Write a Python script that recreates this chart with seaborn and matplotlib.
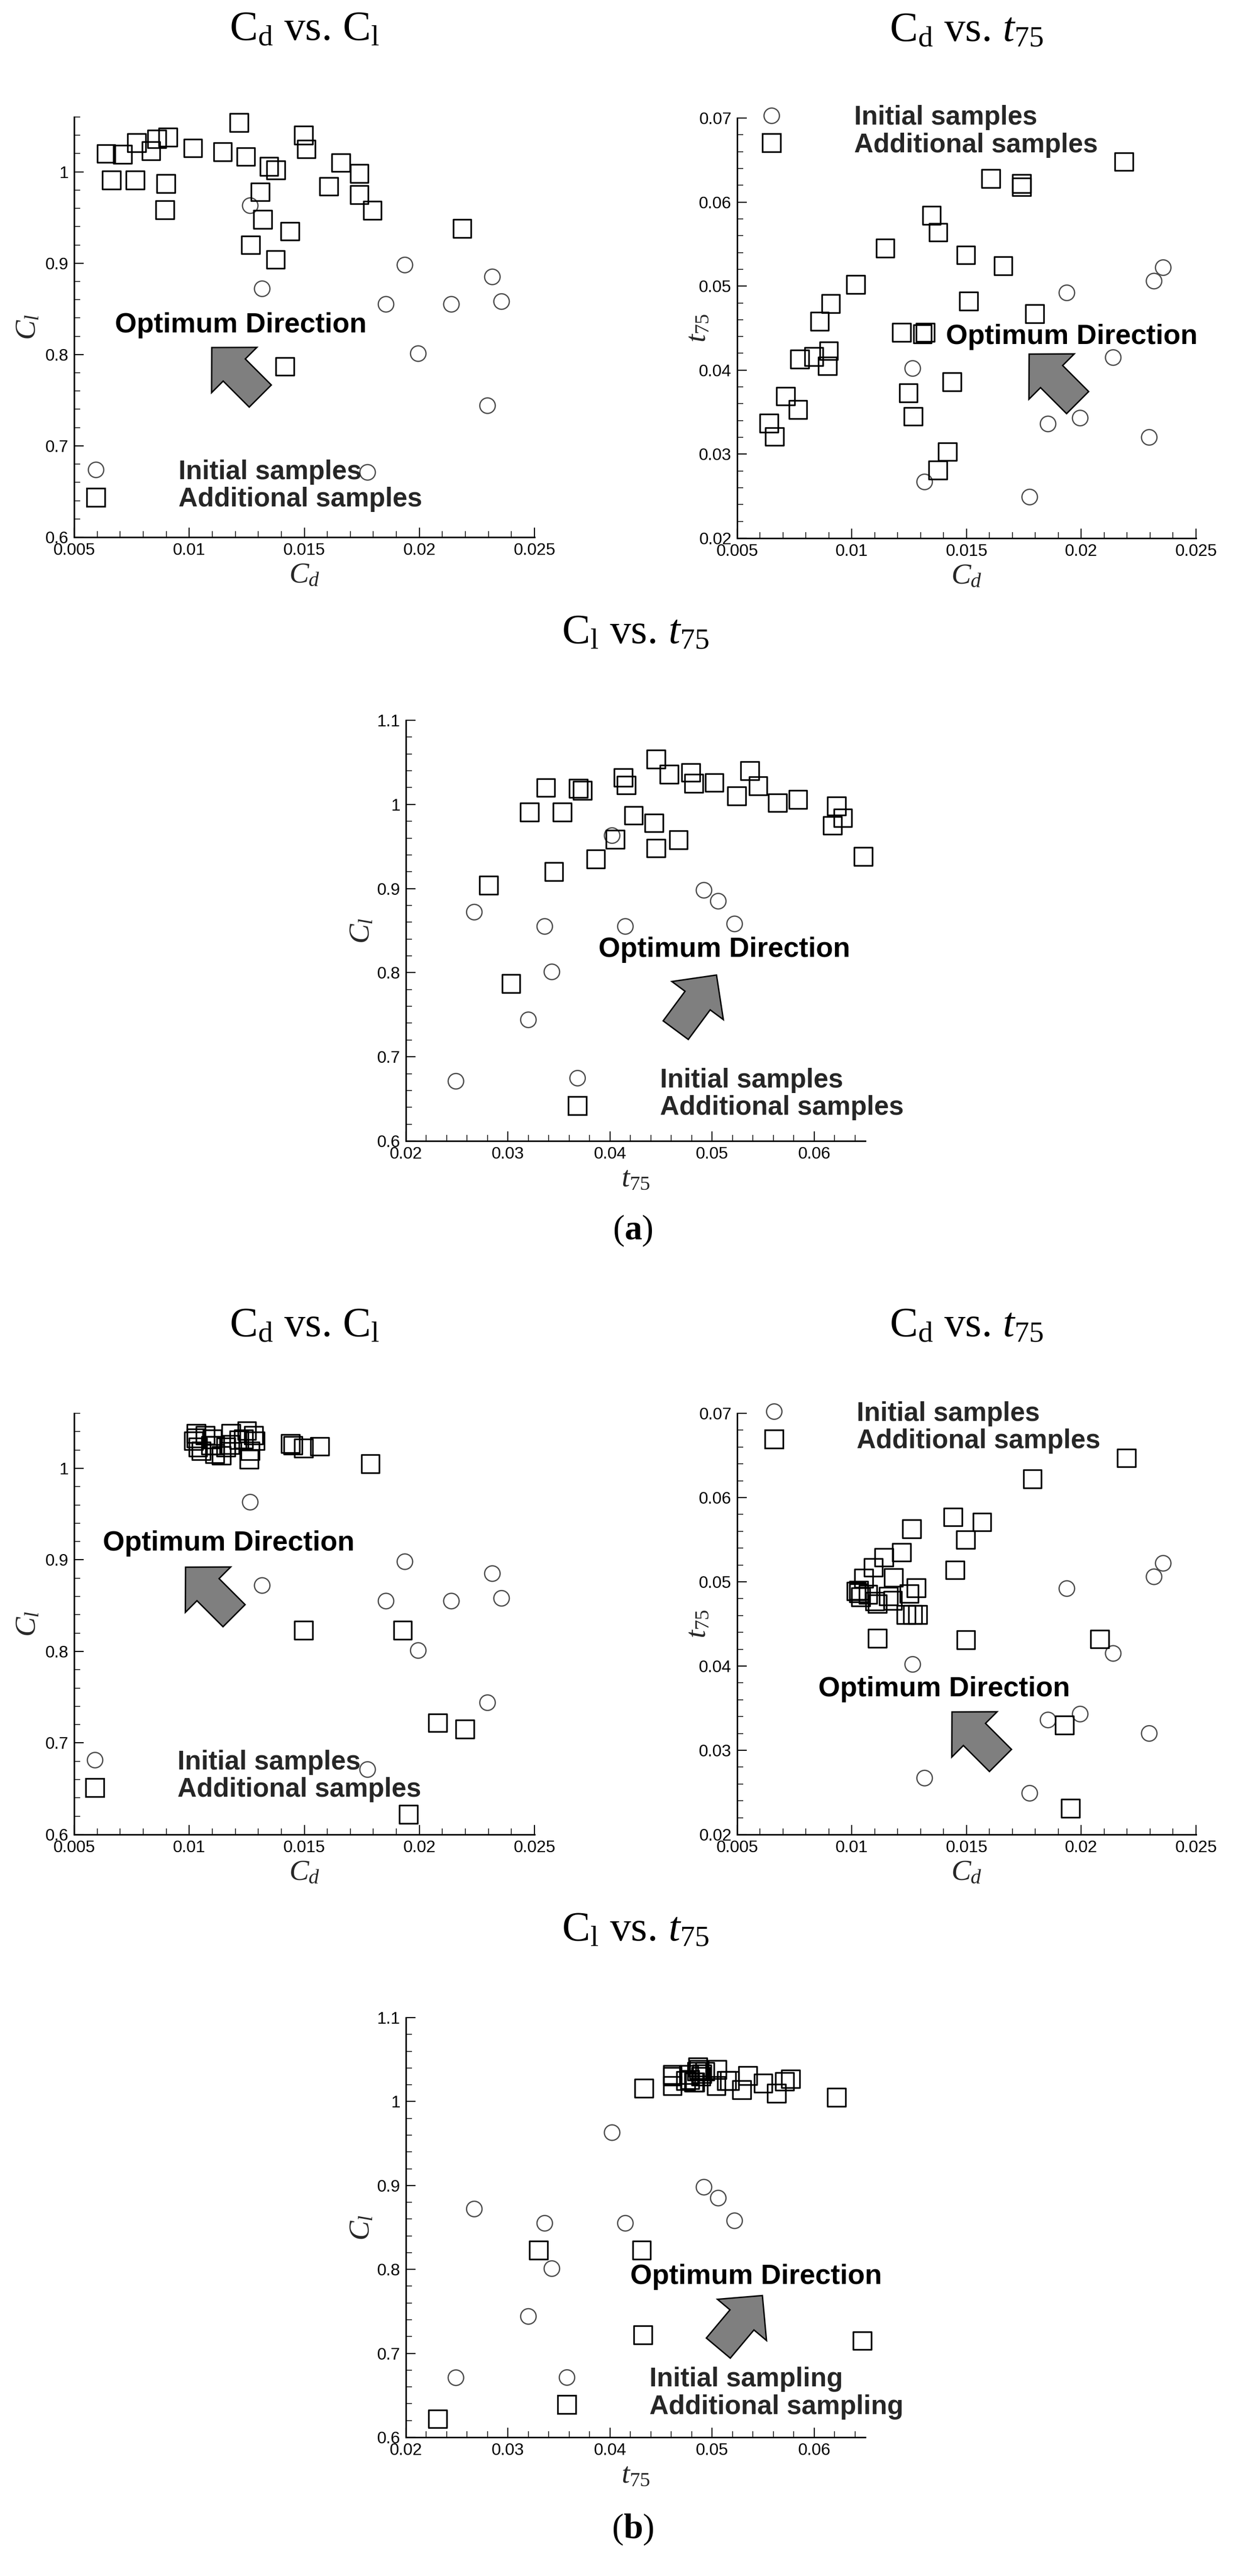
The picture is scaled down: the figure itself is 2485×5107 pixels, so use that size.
import numpy as np
import pandas as pd
import matplotlib
matplotlib.use("Agg")
import matplotlib.pyplot as plt
import seaborn as sns
from matplotlib.lines import Line2D
from matplotlib.patches import Polygon
from matplotlib.ticker import MultipleLocator, FuncFormatter

# ---------------- data ----------------
init_cd = [0.01265, 0.01317, 0.01937, 0.01855, 0.02139, 0.02317, 0.02357, 0.01995, 0.02296, 0.01775]
init_cl = [0.963, 0.872, 0.898, 0.855, 0.855, 0.885, 0.858, 0.801, 0.744, 0.671]
init_t75 = [0.0402, 0.0267, 0.0492, 0.0336, 0.0415, 0.0506, 0.0522, 0.0343, 0.0320, 0.0249]

add_a_cd = [0.00639, 0.00662, 0.00711, 0.00765, 0.00772, 0.00834, 0.00859, 0.00894, 0.00899, 0.00908,
            0.01016, 0.01145, 0.01216, 0.01246, 0.01267, 0.01308, 0.01320, 0.01347, 0.01375, 0.01376,
            0.01416, 0.01437, 0.01497, 0.01509, 0.01606, 0.01659, 0.01739, 0.01739, 0.01796, 0.02186]
add_a_cl = [1.020, 0.991, 1.019, 0.991, 1.032, 1.023, 1.036, 0.9585, 0.987, 1.038,
            1.026, 1.022, 1.054, 1.0167, 0.920, 0.978, 0.948, 1.006, 0.904, 1.002,
            0.787, 0.935, 1.040, 1.025, 0.984, 1.010, 0.998, 0.975, 0.958, 0.938]
add_a_t75 = [0.0337, 0.0321, 0.0369, 0.0353, 0.0413, 0.0416, 0.0458, 0.0405, 0.0423, 0.0479,
             0.0502, 0.0545, 0.0445, 0.0373, 0.0345, 0.0443, 0.0445, 0.0584, 0.0281, 0.0564,
             0.0303, 0.0386, 0.0537, 0.0482, 0.0628, 0.0524, 0.0622, 0.0618, 0.0467, 0.0648]

add_b_cd = [0.02197, 0.01787, 0.01440, 0.01567, 0.01496, 0.01450, 0.01260, 0.01216, 0.01140, 0.01093,
            0.01181, 0.01052, 0.01280, 0.01250, 0.01019, 0.01030, 0.01160, 0.01100, 0.01111, 0.01236,
            0.01265, 0.01287, 0.01111, 0.01497, 0.02080, 0.01927, 0.01952, 0.01038, 0.01070, 0.01178,
            0.01029]
add_b_cl = [0.715, 1.005, 1.027, 1.024, 1.022, 1.025, 1.010, 1.031, 1.014, 1.025,
            1.038, 1.019, 1.036, 1.041, 1.030, 1.038, 1.023, 1.032, 1.025, 1.032,
            1.019, 1.030, 1.016, 0.823, 0.722, 0.823, 0.622, 1.023, 1.036, 1.026,
            1.033]
add_b_t75 = [0.0647, 0.0622, 0.0577, 0.0571, 0.0550, 0.0514, 0.0563, 0.0535, 0.0529, 0.0517,
             0.0505, 0.0504, 0.0493, 0.0486, 0.0489, 0.0487, 0.0483, 0.0477, 0.0474, 0.0461,
             0.0461, 0.0461, 0.0433, 0.0431, 0.0432, 0.0330, 0.0231, 0.0482, 0.0485, 0.0478,
             0.0490]

legend_labels_samples = ["Initial samples", "Additional samples"]
legend_labels_sampling = ["Initial sampling", "Additional sampling"]
optimum_text = "Optimum Direction"

init_df = pd.DataFrame({"cd": init_cd, "cl": init_cl, "t75": init_t75})
add_a_df = pd.DataFrame({"cd": add_a_cd, "cl": add_a_cl, "t75": add_a_t75})
add_b_df = pd.DataFrame({"cd": add_b_cd, "cl": add_b_cl, "t75": add_b_t75})

# ---------------- style ----------------
sns.set_theme(style="ticks")
plt.rcParams["font.family"] = ["Liberation Sans", "DejaVu Sans"]
plt.rcParams["mathtext.fontset"] = "custom"
plt.rcParams["mathtext.rm"] = "Liberation Serif"
plt.rcParams["mathtext.it"] = "Liberation Serif:italic"
plt.rcParams["mathtext.bf"] = "Liberation Serif:bold"

W, H = 2485, 5107
fig = plt.figure(figsize=(W / 100, H / 100), dpi=100)
fig.patch.set_facecolor("white")

def fx(x):
    return x / W

def fy(y):
    return 1 - y / H

CIRC_COLOR = "#4a4a4a"

def draw_arrow(tip, angle, total=136, head_len=63, head_w=127, shaft_w=62):
    a = np.deg2rad(angle)
    d = np.array([np.cos(a), -np.sin(a)])
    n = np.array([-d[1], d[0]])
    T = np.array(tip, dtype=float)
    B = T - d * head_len
    E = T - d * total
    pts = [T, B + n * head_w / 2, B + n * shaft_w / 2, E + n * shaft_w / 2,
           E - n * shaft_w / 2, B - n * shaft_w / 2, B - n * head_w / 2]
    pts = [(fx(p[0]), fy(p[1])) for p in pts]
    poly = Polygon(pts, closed=True, transform=fig.transFigure,
                   facecolor="#7f7f7f", edgecolor="black", linewidth=2.0, zorder=5)
    fig.add_artist(poly)

labels_map = {"cd": r"$C_d$", "cl": r"$C_l$", "t75": r"$t_{\mathit{75}}$"}

panels = [
    dict(rect=(147, 232, 1060, 1065), x="cd", y="cl", add=add_a_df,
         xlim=(0.005, 0.025), ylim=(0.6, 1.06), xmaj=0.005, xmin=0.001, ymaj=0.1, ymin=0.02,
         title=r"$\mathrm{C_d}$ vs. $\mathrm{C_l}$", leg=(190, 930, 996), labels=legend_labels_samples,
         opt=(228, 645), arrow=(420, 689, 135), ylab_off=92),
    dict(rect=(1462, 234, 2372, 1067), x="cd", y="t75", add=add_a_df,
         xlim=(0.005, 0.025), ylim=(0.02, 0.07), xmaj=0.005, xmin=0.001, ymaj=0.01, ymin=0.002,
         title=r"$\mathrm{C_d}$ vs. $t_{75}$", leg=(1530, 227, 294), labels=legend_labels_samples,
         opt=(1876, 668), arrow=(2041, 702, 135), ylab_off=78),
    dict(rect=(805, 1428, 1716, 2262), x="t75", y="cl", add=add_a_df,
         xlim=(0.02, 0.065), ylim=(0.6, 1.1), xmaj=0.01, xmin=0.002, ymaj=0.1, ymin=0.02,
         title=r"$\mathrm{C_l}$ vs. $t_{75}$", leg=(1145, 2136, 2202), labels=legend_labels_samples,
         opt=(1187, 1883), arrow=(1421, 1933, 53.5), ylab_off=88),
    dict(rect=(147, 2802, 1060, 3637), x="cd", y="cl", add=add_b_df,
         xlim=(0.005, 0.025), ylim=(0.6, 1.06), xmaj=0.005, xmin=0.001, ymaj=0.1, ymin=0.02,
         title=r"$\mathrm{C_d}$ vs. $\mathrm{C_l}$", leg=(188, 3489, 3553), labels=legend_labels_samples,
         opt=(204, 3060), arrow=(368, 3107, 135), ylab_off=92),
    dict(rect=(1462, 2802, 2372, 3637), x="cd", y="t75", add=add_b_df,
         xlim=(0.005, 0.025), ylim=(0.02, 0.07), xmaj=0.005, xmin=0.001, ymaj=0.01, ymin=0.002,
         title=r"$\mathrm{C_d}$ vs. $t_{75}$", leg=(1535, 2797, 2863), labels=legend_labels_samples,
         opt=(1623, 3349), arrow=(1888, 3394, 135), ylab_off=78),
    dict(rect=(805, 4000, 1716, 4832), x="t75", y="cl", add=add_b_df,
         xlim=(0.02, 0.065), ylim=(0.6, 1.1), xmaj=0.01, xmin=0.002, ymaj=0.1, ymin=0.02,
         title=r"$\mathrm{C_l}$ vs. $t_{75}$", leg=(1124, 4712, 4777), labels=legend_labels_sampling,
         opt=(1250, 4514), arrow=(1512, 4551, 50), ylab_off=88),
]

fmt = FuncFormatter(lambda v, p: f"{v:g}")
LEG_FS = 38

for P in panels:
    x0, y0, x1, y1 = P["rect"]
    ax = fig.add_axes([fx(x0), fy(y1), (x1 - x0) / W, (y1 - y0) / H])
    ax.set_facecolor("white")
    sns.scatterplot(data=init_df, x=P["x"], y=P["y"], ax=ax, marker="o", s=490,
                    facecolor="none", edgecolor=CIRC_COLOR, linewidth=1.8, legend=False, zorder=3,
                    clip_on=False)
    sns.scatterplot(data=P["add"], x=P["x"], y=P["y"], ax=ax, marker="s", s=660,
                    facecolor="none", edgecolor="black", linewidth=2.4, legend=False, zorder=4,
                    clip_on=False)
    for coll in ax.collections:
        coll.set_facecolor("none")
    ax.set_xlim(*P["xlim"])
    ax.set_ylim(*P["ylim"])
    ax.xaxis.set_major_locator(MultipleLocator(P["xmaj"]))
    ax.xaxis.set_minor_locator(MultipleLocator(P["xmin"]))
    ax.yaxis.set_major_locator(MultipleLocator(P["ymaj"]))
    ax.yaxis.set_minor_locator(MultipleLocator(P["ymin"]))
    ax.xaxis.set_major_formatter(fmt)
    ax.yaxis.set_major_formatter(fmt)
    sns.despine(ax=ax)
    for s in ("left", "bottom"):
        ax.spines[s].set_linewidth(2.2)
        ax.spines[s].set_color("black")
    ax.tick_params(which="major", direction="in", length=14, width=1.6, labelsize=24,
                   pad=8, colors="black")
    ax.tick_params(which="minor", direction="in", length=8.5, width=1.1, colors="black")
    ax.tick_params(top=False, right=False, which="both")
    ax.grid(False)

    ax.set_xlabel(labels_map[P["x"]], fontsize=42)
    ax.set_ylabel(labels_map[P["y"]], fontsize=42)
    ax.xaxis.label.set_va("center")
    ax.yaxis.label.set_va("center")
    ax.xaxis.set_label_coords(0.5, -75 / (y1 - y0))
    ax.yaxis.set_label_coords(-P["ylab_off"] / (x1 - x0), 0.5)

    # title
    fig.text(fx((x0 + x1) / 2), fy(y0 - 153), P["title"], ha="center", va="baseline",
             fontsize=60, family="Liberation Serif", color="black")

    # legend
    mx, r1, r2 = P["leg"]
    handles = [
        Line2D([0], [0], marker="o", ls="none", mfc="none", mec=CIRC_COLOR, mew=1.8, ms=22),
        Line2D([0], [0], marker="s", ls="none", mfc="none", mec="black", mew=2.4, ms=25.5),
    ]
    hl = 1.2
    em = LEG_FS * 100 / 72
    left = mx - hl * em / 2
    ax.legend(handles, P["labels"], loc="center left",
              bbox_to_anchor=(fx(left), fy((r1 + r2) / 2)), bbox_transform=fig.transFigure,
              frameon=False, prop={"family": "Liberation Sans", "weight": "bold", "size": LEG_FS},
              handlelength=hl, handletextpad=(164 - hl * em / 2) / em, labelspacing=0.08,
              borderpad=0, borderaxespad=0)

    # optimum direction annotation
    ox, oy = P["opt"]
    fig.text(fx(ox), fy(oy), optimum_text, ha="left", va="center", fontsize=40,
             weight="bold", family="Liberation Sans", color="black")
    tx, ty, ang = P["arrow"]
    draw_arrow((tx, ty), ang)

fig.text(fx(1255), fy(2440), r"($\mathbf{a}$)", ha="center", va="center", fontsize=50,
         family="Liberation Serif", color="black")
fig.text(fx(1255), fy(5015), r"($\mathbf{b}$)", ha="center", va="center", fontsize=50,
         family="Liberation Serif", color="black")

fig.savefig("out.png", dpi=100, facecolor="white")
